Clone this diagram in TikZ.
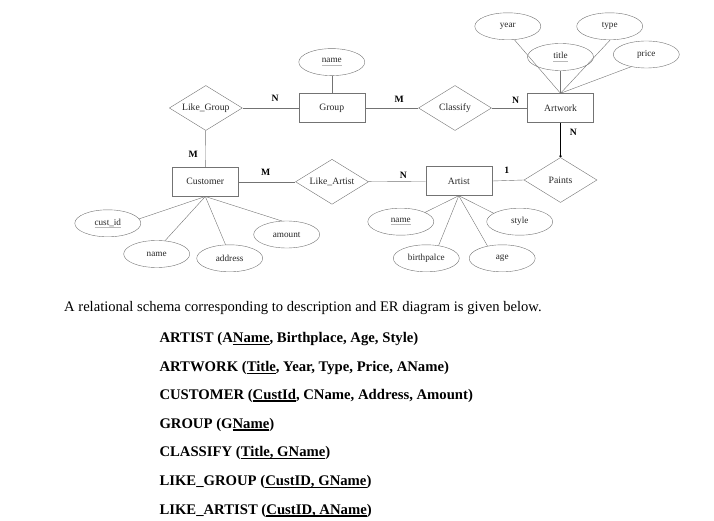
\documentclass[tikz,border=0pt]{standalone}
\usepackage{fontspec}
\setmainfont{Liberation Serif}
\usepackage{tikz}
\usetikzlibrary{shapes,arrows.meta,positioning}
\definecolor{linie}{gray}{0.45}
\definecolor{schrift}{gray}{0.15}
\newcommand{\keyattr}[1]{\setbox0\hbox{#1}\rlap{\color{gray!55}\rule[-2.6pt]{\wd0}{0.8pt}}\box0}
\newcommand{\schemakey}[1]{\setbox0\hbox{#1}\rlap{\rule[-2.3pt]{\wd0}{1.3pt}}\box0}
\tikzstyle{entity}=[rectangle,draw=linie,thin,inner sep=0pt,minimum width=66pt,minimum height=29pt,text=schrift,font=\fontsize{9.7}{11}\selectfont]
\tikzstyle{relation}=[diamond,draw=linie,thin,inner sep=0pt,aspect=1.6,minimum width=73pt,minimum height=45pt,text=schrift,font=\fontsize{9.7}{11}\selectfont]
\tikzstyle{attrib}=[ellipse,draw=linie,thin,inner sep=0pt,minimum width=66pt,minimum height=27pt,text=schrift,font=\fontsize{9.2}{11}\selectfont]
\tikzstyle{card}=[inner sep=0pt,font=\fontsize{9.7}{11}\selectfont\bfseries]
\tikzstyle{link}=[draw=linie,thin]
\tikzstyle{schema}=[anchor=base west,inner sep=0pt,font=\fontsize{14.7}{16}\selectfont\bfseries]

\begin{document}
\begin{tikzpicture}[x=1pt,y=-1pt]
    \useasboundingbox (0,0) rectangle (714,521);

    % Entitaeten
    \node[entity] (group) at (331.8,108) {Group};
    \node[entity] (customer) at (205.3,181.8) {Customer};
    \node[entity] (artist) at (458.8,181) {Artist};
    \node[entity] (artwork) at (560.5,108) {Artwork};

    % Beziehungen
    \node[relation] (likegroup) at (205.8,108) {Like\_Group};
    \node[relation] (classify) at (455,108) {Classify};
    \node[relation] (likeartist) at (332,181.8) {Like\_Artist};
    \node[relation] (paints) at (560.5,180) {Paints};

    % Attribute
    \node[attrib] (gname) [above=17.5pt of group] {\keyattr{name}};
    \node[attrib] (custid) at (107.8,223.3) {\keyattr{cust\_id}};
    \node[attrib] (cname) at (156.7,254) {name};
    \node[attrib] (address) at (229.7,258.3) {address};
    \node[attrib] (amount) at (286.7,234.5) {amount};
    \node[attrib] (aname) at (400.8,221.7) {\keyattr{name}};
    \node[attrib] (birth) at (426.3,258.3) {birthpalce};
    \node[attrib] (age) at (502.2,258.3) {age};
    \node[attrib] (style) at (519.7,221.7) {style};
    \node[attrib] (year) at (507.8,26.3) {year};
    \node[attrib] (type) at (609.7,26.3) {type};
    \node[attrib] (title) at (560.5,57) {\keyattr{title}};
    \node[attrib] (price) at (646.3,54.5) {price};

    % Kardinalitaeten
    \node[card] (c1) at (275,98) {N};
    \node[card] (c2) at (193.3,154) {M};
    \node[card] (c3) at (265.7,172.7) {M};
    \node[card] (c4) at (399.3,99.3) {M};
    \node[card] (c5) at (515.7,100) {N};
    \node[card] (c6) at (573.3,132.7) {N};
    \node[card] (c7) at (403.3,175) {N};
    \node[card] (c8) at (506.7,170.7) {1};

    % Verbindungen
    \draw [link] (likegroup) -- (group);
    \draw [link] (group) -- (classify);
    \draw [link] (classify) -- (artwork);
    \draw [link] (likegroup) -- (customer);
    \draw [link] (customer) -- (likeartist);
    \draw [link] (likeartist) -- (artist);
    \draw [link] (artist.east) -- (paints.west);
    \draw [-{Circle[length=2.4pt]},black,semithick] (artwork) -- (paints.north);

    % Attributlinien
    \draw [link] (gname) -- (group);
    \draw [link] (customer.south) -- (custid.8);
    \draw [link] (customer.south) -- (cname.58);
    \draw [link] (customer.south) -- (address.107);
    \draw [link] (customer.south) -- (amount.110);
    \draw [link] (artist.south) -- (aname.21);
    \draw [link] (artist.south) -- (birth.46);
    \draw [link] (artist.south) -- (age.140);
    \draw [link] (artist.south) -- (style.162);
    \draw [link] (artwork.north) -- (year.-64);
    \draw [link] (artwork.north) -- (title.south);
    \draw [link] (artwork.north) -- (type.-88);
    \draw [link] (artwork.north) -- (price.219);

    % Schema
    \node[anchor=base west,inner sep=0pt,font=\fontsize{14.6}{16}\selectfont] (intro) at (64,311.7) {A relational schema corresponding to description and ER diagram is given below.};
    \node[schema] (s1) at (159.3,342.7) {ARTIST (A\schemakey{Name}, Birthplace, Age, Style)};
    \node[schema] (s2) at (159.3,371.7) {ARTWORK (\schemakey{Title}, Year, Type, Price, AName)};
    \node[schema] (s3) at (159.3,399.3) {CUSTOMER (\schemakey{CustId}, CName, Address, Amount)};
    \node[schema] (s4) at (159.3,428.3) {GROUP (G\schemakey{Name})};
    \node[schema] (s5) at (159.3,456.7) {CLASSIFY (\schemakey{Title, GName})};
    \node[schema] (s6) at (159.3,485.7) {LIKE\_GROUP (\schemakey{CustID, GName})};
    \node[schema] (s7) at (159.3,514.3) {LIKE\_ARTIST (\schemakey{CustID, AName})};

\end{tikzpicture}
\end{document}
